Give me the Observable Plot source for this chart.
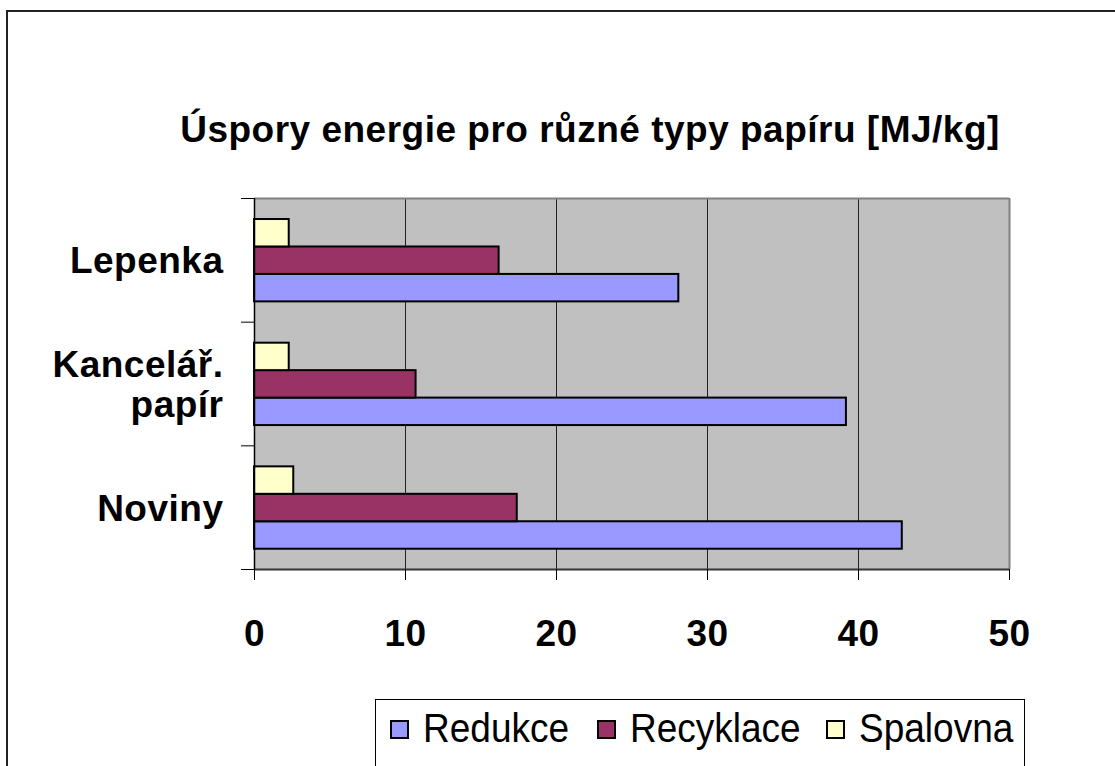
<!DOCTYPE html>
<html>
<head>
<meta charset="utf-8">
<script src="https://cdn.jsdelivr.net/npm/d3@7"></script>
<script src="https://cdn.jsdelivr.net/npm/@observablehq/plot@0.6"></script>
<style>
  html, body { margin: 0; padding: 0; background: #fff; }
  #page { position: relative; width: 1115px; height: 766px; overflow: hidden; background: #fff; font-family: "Liberation Sans", Arial, sans-serif; }
  #outer { position: absolute; left: 6px; top: 10px; width: 1200px; height: 900px; border-left: 2px solid #222; border-top: 2px solid #222; }
  #title { position: absolute; top: 110px; left: 590px; transform: translateX(-50%); white-space: nowrap; font-size: 37px; font-weight: bold; letter-spacing: 0.5px; line-height: 40px; color: #000; }
  #chart { position: absolute; left: 0; top: 160px; }
  #legend { position: absolute; left: 375px; top: 699px; width: 648px; height: 100px; border: 1px solid #000; background: #fff; }
  .item { position: absolute; top: 0; height: 58px; display: flex; align-items: center; font-size: 37px; color: #000; }
  .item .tx { display: inline-block; transform: scaleY(1.12); }
  .sw { width: 15px; height: 15px; border: 2px solid #000; margin-right: 14px; }
</style>
</head>
<body>
<div id="page">
  <div id="outer"></div>
  <div id="title">Úspory energie pro různé typy papíru [MJ/kg]</div>
  <div id="chart"></div>
  <div id="legend"></div>
</div>
<script>
// ---- data ----
const categories = ["Lepenka", "Kancelář.\npapír", "Noviny"];
const series = ["Redukce", "Recyklace", "Spalovna"];
const colors = ["#9999FF", "#993366", "#FFFFCC"];
const redukce = [28.1, 39.2, 42.9];
const recyklace = [16.2, 10.7, 17.4];
const spalovna = [2.3, 2.3, 2.6];
const xTicks = [0, 10, 20, 30, 40, 50];

// order of bars inside each category band, top to bottom
const slotOrder = ["Spalovna", "Recyklace", "Redukce"];
const valuesBySeries = {Redukce: redukce, Recyklace: recyklace, Spalovna: spalovna};

const bandPad = 0.17;   // fraction of band above first bar
const barH = 0.222;     // fraction of band per bar

const rows = [];
categories.forEach((c, ci) => {
  series.forEach(s => {
    const slot = slotOrder.indexOf(s);
    rows.push({
      category: c,
      series: s,
      value: valuesBySeries[s][ci],
      y1: ci + bandPad + slot * barH,
      y2: ci + bandPad + (slot + 1) * barH
    });
  });
});
const labelRows = categories.map((c, i) => ({label: c, y: i + 0.5}));

const chart = Plot.plot({
  width: 1115,
  height: 520,
  marginTop: 38,
  marginBottom: 111,
  marginLeft: 254,
  marginRight: 106,
  style: {
    fontFamily: "'Liberation Sans', Arial, sans-serif",
    fontSize: "37px",
    fontWeight: "bold",
    letterSpacing: "0.5px",
    color: "#000",
    background: "transparent",
    overflow: "visible"
  },
  x: {domain: [0, 50]},
  y: {domain: [0, 3], reverse: true},
  color: {domain: series, range: colors},
  marks: [
    Plot.frame({fill: "#C0C0C0", stroke: null}),
    Plot.ruleX([10, 20, 30, 40], {stroke: "#222", strokeWidth: 1}),
    Plot.ruleY([0], {stroke: "#808080", strokeWidth: 2}),
    Plot.ruleX([50], {stroke: "#808080", strokeWidth: 2}),
    Plot.rect(rows, {x1: 0, x2: "value", y1: "y1", y2: "y2", fill: "series", stroke: "#000", strokeWidth: 2}),
    Plot.ruleY([3], {stroke: "#333", strokeWidth: 2}),
    Plot.ruleX([0], {stroke: "#000", strokeWidth: 1.5}),
    Plot.axisX({ticks: xTicks, tickSize: 11, tickPadding: 39, tickFormat: d => String(d), stroke: "#000", label: null}),
    Plot.axisY({ticks: [0, 1, 2, 3], tickSize: 13, tickFormat: () => "", stroke: "#000", label: null}),
    Plot.text(labelRows, {x: 0, y: "y", text: "label", dx: -31, textAnchor: "end", lineAnchor: "middle", lineHeight: 1.1, fill: "#000"})
  ]
});
document.getElementById("chart").appendChild(chart);

// ---- legend ----
const legend = document.getElementById("legend");
const itemLeft = [14, 221, 450];
series.forEach((s, i) => {
  const it = document.createElement("div");
  it.className = "item";
  it.style.left = itemLeft[i] + "px";
  const sw = document.createElement("span");
  sw.className = "sw";
  sw.style.background = colors[i];
  const tx = document.createElement("span");
  tx.className = "tx";
  tx.textContent = s;
  it.appendChild(sw);
  it.appendChild(tx);
  legend.appendChild(it);
});
</script>
</body>
</html>
